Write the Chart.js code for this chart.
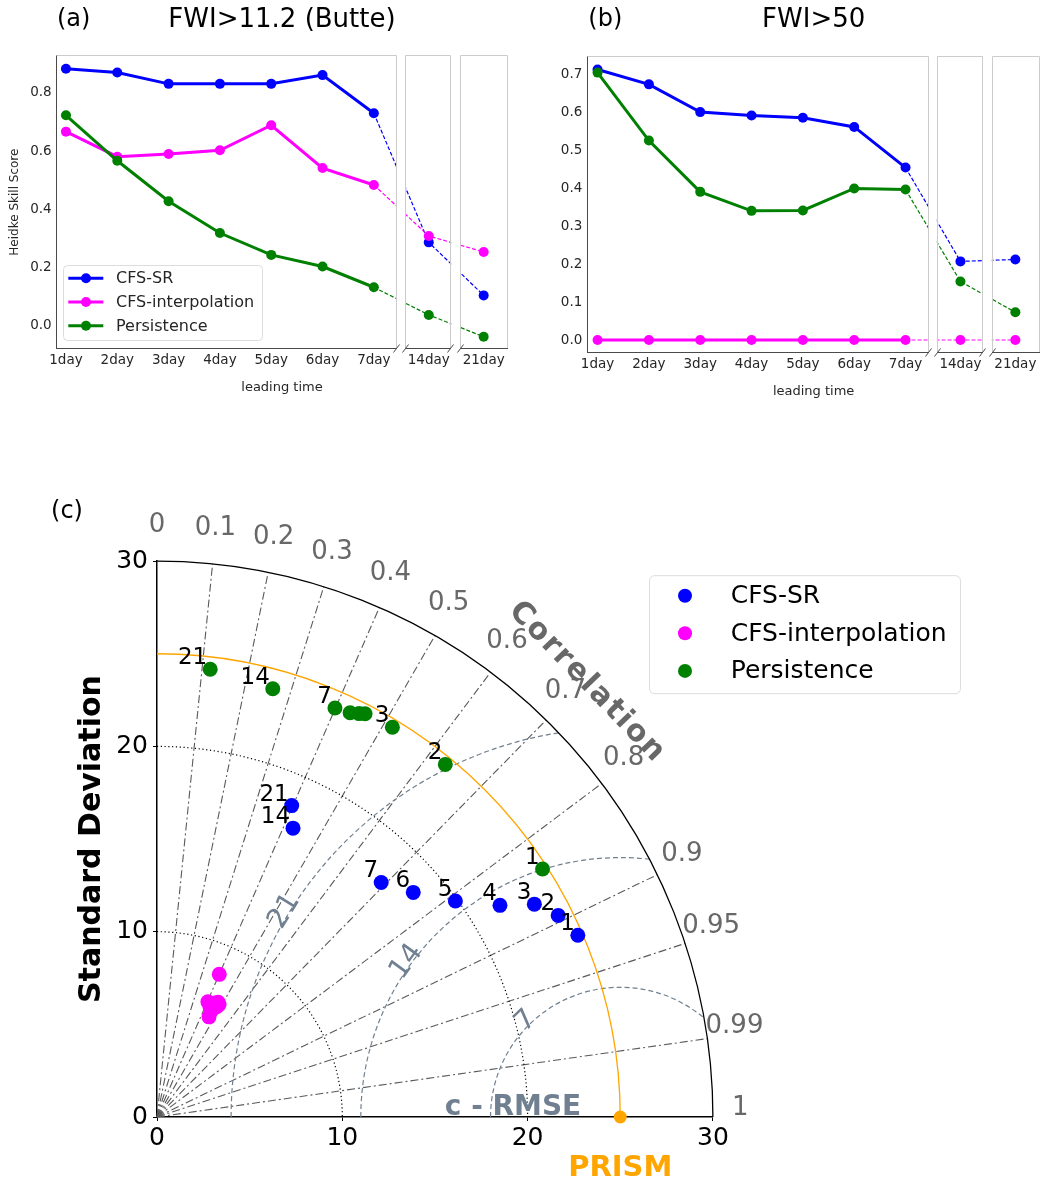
<!DOCTYPE html>
<html>
<head>
<meta charset="utf-8">
<script src="https://cdn.jsdelivr.net/npm/chart.js@4.4.0/dist/chart.umd.min.js"></script>
<style>
  body { margin: 0; background: #fff; }
  #wrap { position: relative; width: 1045px; height: 1193px; overflow: hidden; }
  canvas { position: absolute; }
  #cA { left: 0; top: 0; }
  #cB { left: 520px; top: 0; }
  #cC { left: 0; top: 470px; }
</style>
</head>
<body>
<div id="wrap">
  <canvas id="cA" width="520" height="410"></canvas>
  <canvas id="cB" width="525" height="410"></canvas>
  <canvas id="cC" width="1045" height="723"></canvas>
</div>
<script>
// ---- panels (a) and (b): Heidke skill score by leading time ----
const leadLabels = ['1day', '2day', '3day', '4day', '5day', '6day', '7day', '14day', '21day'];
const leadSlot = [0, 1, 2, 3, 4, 5, 6, 7.07, 8.14]; // place on the broken x axis

const hssA_sr = [0.883, 0.870, 0.831, 0.831, 0.831, 0.861, 0.730, 0.287, 0.105];
const hssA_interp = [0.667, 0.581, 0.590, 0.603, 0.689, 0.542, 0.484, 0.309, 0.254];
const hssA_persist = [0.723, 0.567, 0.428, 0.319, 0.244, 0.204, 0.133, 0.038, -0.037];
const hssA_ticks = [0, 0.2, 0.4, 0.6, 0.8];

const hssB_sr = [0.712, 0.673, 0.600, 0.591, 0.585, 0.561, 0.454, 0.207, 0.212];
const hssB_interp = [0, 0, 0, 0, 0, 0, 0, 0, 0];
const hssB_persist = [0.704, 0.525, 0.390, 0.340, 0.341, 0.399, 0.396, 0.154, 0.073];
const hssB_ticks = [0, 0.1, 0.2, 0.3, 0.4, 0.5, 0.6, 0.7];

// ---- panel (c): Taylor diagram ----
const refStd = 25;
const dayTags = ['1', '2', '3', '4', '5', '6', '7', '14', '21'];
const srStd = [24.74, 24.23, 23.38, 21.75, 19.88, 18.39, 17.51, 17.23, 18.31];
const srCorr = [0.918, 0.8935, 0.871, 0.851, 0.810, 0.752, 0.691, 0.426, 0.397];
const interpStd = [8.40, 6.80, 6.94, 6.77, 6.09, 6.89, 6.46, 7.02, 6.64];
const interpCorr = [0.400, 0.404, 0.483, 0.476, 0.461, 0.450, 0.457, 0.470, 0.429];
const persistStd = [24.74, 24.58, 24.57, 24.49, 24.35, 24.18, 24.07, 23.94, 24.33];
const persistCorr = [0.841, 0.633, 0.517, 0.4585, 0.448, 0.431, 0.399, 0.261, 0.118];
const persistTags = ['1', '2', '3', '', '', '', '7', '14', '21'];
const corrTicks = [0, 0.1, 0.2, 0.3, 0.4, 0.5, 0.6, 0.7, 0.8, 0.9, 0.95, 0.99, 1];
const stdGrid = [10, 20];
const stdMax = 30;
const rmsLevels = [7, 14, 21];
const rmsLabelAngle = [134.5, 144, 148.5];

const FAMILY = "'DejaVu Sans', sans-serif";
const INK = '#262626';
const subAxes = [[-0.2, 6.45], [6.61, 7.51], [7.68, 8.62]];

function drawText(ctx, str, x, y, font, color, align, base, rot) {
    ctx.save();
    ctx.translate(x, y);
    if (rot) ctx.rotate(rot * Math.PI / 180);
    ctx.font = font;
    ctx.fillStyle = color;
    ctx.textAlign = align || 'center';
    ctx.textBaseline = base || 'middle';
    ctx.fillText(str, 0, 0);
    ctx.restore();
}

function seg(ctx, x0, y0, x1, y1) {
    ctx.beginPath();
    ctx.moveTo(x0, y0);
    ctx.lineTo(x1, y1);
    ctx.stroke();
}

// white gaps, frames and "//" marks of the broken x axis
const brokenAxis = {
    id: 'brokenAxis',
    afterDatasetsDraw(chart) {
        const { ctx, chartArea: a, scales: { x } } = chart;
        ctx.save();
        ctx.fillStyle = '#fff';
        for (let i = 0; i < subAxes.length - 1; i++) {
            const g0 = x.getPixelForValue(subAxes[i][1]);
            const g1 = x.getPixelForValue(subAxes[i + 1][0]);
            ctx.fillRect(g0, a.top - 3, g1 - g0, a.bottom - a.top + 6);
        }
        ctx.lineWidth = 1;
        subAxes.forEach(([s0, s1], i) => {
            const l = Math.round(x.getPixelForValue(s0)) + 0.5;
            const r = Math.round(x.getPixelForValue(s1)) - 0.5;
            const t = Math.round(a.top) + 0.5;
            const b = Math.round(a.bottom) - 0.5;
            ctx.strokeStyle = '#cccccc';
            seg(ctx, l, t, r, t);
            seg(ctx, r, t, r, b);
            if (i > 0) seg(ctx, l, t, l, b);
            ctx.strokeStyle = '#4a4a4a';
            seg(ctx, l - 0.5, b, r + 0.5, b);
            if (i === 0) seg(ctx, l, t, l, b);
            if (i > 0) seg(ctx, l - 3, b + 4, l + 3, b - 4);
            if (i < subAxes.length - 1) seg(ctx, r - 3, b + 4, r + 3, b - 4);
        });
        ctx.restore();
    }
};

const panelTitle = {
    id: 'panelTitle',
    afterDraw(chart, args, opts) {
        const { ctx, chartArea: a } = chart;
        drawText(ctx, opts.tag, a.left + 18, 20, '24px ' + FAMILY, '#000');
        drawText(ctx, opts.text, (a.left + a.right) / 2, 20, '26px ' + FAMILY, '#000');
    }
};

const hssLegend = {
    id: 'hssLegend',
    afterDraw(chart, args, opts) {
        if (!opts.show) return;
        const { ctx } = chart;
        ctx.save();
        ctx.beginPath();
        ctx.roundRect(63.5, 265.5, 199, 75, 4);
        ctx.fillStyle = 'rgba(255,255,255,0.85)';
        ctx.fill();
        ctx.strokeStyle = '#dcdcdc';
        ctx.lineWidth = 1;
        ctx.stroke();
        chart.data.datasets.forEach((ds, i) => {
            const y = 278.3 + i * 23.7;
            ctx.strokeStyle = ds.borderColor;
            ctx.lineWidth = 3;
            seg(ctx, 68.3, y, 103.3, y);
            ctx.fillStyle = ds.borderColor;
            ctx.beginPath();
            ctx.arc(86, y, 5, 0, Math.PI * 2);
            ctx.fill();
            drawText(ctx, ds.label, 116, y + 1, '16px ' + FAMILY, INK, 'left', 'middle');
        });
        ctx.restore();
    }
};

function series(label, color, vals, order) {
    return {
        label,
        order,
        data: vals.map((v, i) => ({ x: leadSlot[i], y: v })),
        borderColor: color,
        backgroundColor: color,
        borderWidth: 3,
        pointRadius: 5,
        pointHoverRadius: 5,
        pointBorderWidth: 0,
        segment: {
            borderDash: c => (c.p0DataIndex >= 6 ? [4, 2] : undefined),
            borderWidth: c => (c.p0DataIndex >= 6 ? 1.2 : undefined)
        }
    };
}

function hssChart(id, sr, interp, persist, yMin, yMax, yTicks, cfg) {
    return new Chart(document.getElementById(id), {
        type: 'line',
        data: {
            datasets: [
                series('CFS-SR', '#0000ff', sr, 2),
                series('CFS-interpolation', '#ff00ff', interp, 1),
                series('Persistence', '#008000', persist, 0)
            ]
        },
        options: {
            responsive: false,
            animation: false,
            events: [],
            layout: { padding: cfg.padding },
            plugins: {
                legend: { display: false },
                tooltip: { enabled: false },
                panelTitle: { tag: cfg.tag, text: cfg.title },
                hssLegend: { show: cfg.legend }
            },
            scales: {
                x: {
                    type: 'linear',
                    min: subAxes[0][0],
                    max: subAxes[2][1],
                    grid: { display: false, drawTicks: false },
                    border: { display: false },
                    afterBuildTicks: s => { s.ticks = leadSlot.map(v => ({ value: v })); },
                    afterFit: s => { s.height = cfg.xHeight; },
                    ticks: {
                        autoSkip: false,
                        maxRotation: 0,
                        padding: 3,
                        color: INK,
                        font: { family: FAMILY, size: 13.5 },
                        callback: (v, i) => leadLabels[i]
                    },
                    title: {
                        display: true,
                        text: 'leading time',
                        color: INK,
                        font: { family: FAMILY, size: 13 },
                        padding: { top: 0, bottom: cfg.xTitlePad }
                    }
                },
                y: {
                    min: yMin,
                    max: yMax,
                    grid: { display: false, drawTicks: false },
                    border: { display: false },
                    afterBuildTicks: s => { s.ticks = yTicks.map(v => ({ value: v })); },
                    afterFit: s => { s.width = cfg.yWidth; },
                    ticks: {
                        padding: cfg.yPad,
                        color: INK,
                        font: { family: FAMILY, size: 13.5 },
                        callback: v => v.toFixed(1)
                    },
                    title: {
                        display: !!cfg.yTitle,
                        text: cfg.yTitle || '',
                        color: INK,
                        font: { family: FAMILY, size: 12 },
                        padding: { top: 7.8, bottom: 0 }
                    }
                }
            }
        },
        plugins: [brokenAxis, panelTitle, hssLegend]
    });
}

// Taylor diagram grid, labels and legend
const taylorGrid = {
    id: 'taylorGrid',
    beforeDatasetsDraw(chart) {
        const { ctx, scales: { x, y } } = chart;
        const ox = x.getPixelForValue(0), oy = y.getPixelForValue(0);
        const k = x.getPixelForValue(1) - ox;
        const R = stdMax * k;
        ctx.save();
        // correlation rays
        ctx.strokeStyle = '#5a5a5a';
        ctx.lineWidth = 1.1;
        ctx.setLineDash([8, 3, 2, 3]);
        corrTicks.filter(c => c > 0 && c < 1).forEach(c => {
            const t = Math.acos(c);
            seg(ctx, ox, oy, ox + R * Math.cos(t), oy - R * Math.sin(t));
        });
        // standard deviation circles
        ctx.strokeStyle = '#000';
        ctx.lineWidth = 1.2;
        ctx.setLineDash([1.2, 2.6]);
        stdGrid.forEach(s => {
            ctx.beginPath();
            ctx.arc(ox, oy, s * k, -Math.PI / 2, 0);
            ctx.stroke();
        });
        // centred RMS difference arcs
        ctx.save();
        ctx.beginPath();
        ctx.moveTo(ox, oy);
        ctx.arc(ox, oy, R, -Math.PI / 2, 0);
        ctx.closePath();
        ctx.clip();
        ctx.strokeStyle = '#708090';
        ctx.lineWidth = 1.2;
        ctx.setLineDash([5, 3]);
        const cx = x.getPixelForValue(refStd);
        rmsLevels.forEach(r => {
            ctx.beginPath();
            ctx.arc(cx, oy, r * k, Math.PI, 2 * Math.PI);
            ctx.stroke();
        });
        ctx.restore();
        // reference std circle and outer rim
        ctx.setLineDash([]);
        ctx.strokeStyle = '#ffa500';
        ctx.lineWidth = 1.3;
        ctx.beginPath();
        ctx.arc(ox, oy, refStd * k, -Math.PI / 2, 0);
        ctx.stroke();
        ctx.strokeStyle = '#000';
        ctx.beginPath();
        ctx.arc(ox, oy, R, -Math.PI / 2, 0);
        ctx.stroke();
        // labels
        corrTicks.forEach(c => {
            const t = Math.acos(c);
            const r = 31.48 * k;
            drawText(ctx, String(c), ox + r * Math.cos(t), oy - r * Math.sin(t) - 8.7,
                '26px ' + FAMILY, '#686868');
        });
        rmsLevels.forEach((r, i) => {
            const t = rmsLabelAngle[i] * Math.PI / 180;
            const d = (r + 0.25) * k;
            drawText(ctx, String(r), cx + d * Math.cos(t), oy - d * Math.sin(t),
                '28px ' + FAMILY, '#708090', 'center', 'middle', 90 - rmsLabelAngle[i]);
        });
        const ct = 45.3 * Math.PI / 180;
        ctx.save();
        ctx.letterSpacing = '2px';
        drawText(ctx, 'Correlation', ox + 33.0 * k * Math.cos(ct), oy - 33.0 * k * Math.sin(ct),
            'bold 30px ' + FAMILY, '#686868', 'center', 'middle', 46);
        ctx.restore();
        drawText(ctx, 'c - RMSE', 513, oy - 2, 'bold 28px ' + FAMILY, '#708090', 'center', 'alphabetic');
        drawText(ctx, 'Standard Deviation', 92, (oy + y.getPixelForValue(stdMax)) / 2,
            'bold 30px ' + FAMILY, '#000', 'center', 'middle', -90);
        drawText(ctx, 'PRISM', cx, oy + 51, 'bold 29px ' + FAMILY, '#ffa500');
        drawText(ctx, '(c)', 67, 42, '24px ' + FAMILY, '#000');
        ctx.restore();
    },
    afterDatasetsDraw(chart) {
        const { ctx } = chart;
        chart.data.datasets.forEach((ds, di) => {
            if (!ds.tags) return;
            chart.getDatasetMeta(di).data.forEach((pt, j) => {
                if (ds.tags[j]) drawText(ctx, ds.tags[j], pt.x - 3, pt.y - 5, '23px ' + FAMILY, '#000', 'right', 'alphabetic');
            });
        });
        // legend
        ctx.save();
        ctx.beginPath();
        ctx.roundRect(649.5, 105.7, 311, 118, 5);
        ctx.fillStyle = '#fff';
        ctx.fill();
        ctx.strokeStyle = '#dcdcdc';
        ctx.lineWidth = 1;
        ctx.stroke();
        chart.data.datasets.slice(0, 3).forEach((ds, i) => {
            const yy = 125.7 + i * 37.6;
            ctx.fillStyle = ds.backgroundColor;
            ctx.beginPath();
            ctx.arc(685, yy, 7, 0, Math.PI * 2);
            ctx.fill();
            drawText(ctx, ds.label, 730.7, yy + 1, '25px ' + FAMILY, '#000', 'left', 'middle');
        });
        ctx.restore();
    }
};

function taylorSet(label, color, std, corr, tags, order) {
    return {
        label,
        tags,
        order,
        clip: false,
        pointRadius: 7.5,
        pointHoverRadius: 7.5,
        pointBorderWidth: 0,
        backgroundColor: color,
        borderColor: color,
        data: std.map((s, i) => ({ x: s * corr[i], y: s * Math.sqrt(1 - corr[i] * corr[i]) }))
    };
}

document.addEventListener('DOMContentLoaded', () => {
    hssChart('cA', hssA_sr, hssA_interp, hssA_persist, -0.08, 0.93, hssA_ticks, {
        tag: '(a)', title: 'FWI>11.2 (Butte)', legend: true,
        padding: { top: 55, right: 11.7, left: 0, bottom: 0 },
        xHeight: 60.7, xTitlePad: 14.5, yWidth: 55.7, yPad: 4, yTitle: 'Heidke Skill Score'
    });
    hssChart('cB', hssB_sr, hssB_interp, hssB_persist, -0.035, 0.749, hssB_ticks, {
        tag: '(b)', title: 'FWI>50', legend: false,
        padding: { top: 55.5, right: 1, left: 0, bottom: 0 },
        xHeight: 56.7, xTitlePad: 10.5, yWidth: 67.3, yPad: 5
    });

    const axisCommon = {
        type: 'linear',
        min: 0,
        max: stdMax,
        grid: { drawOnChartArea: false, tickLength: 4, color: '#000' },
        border: { color: '#000', width: 1.5 },
        ticks: { stepSize: 10, color: '#000', font: { family: FAMILY, size: 25 } }
    };
    new Chart(document.getElementById('cC'), {
        type: 'scatter',
        data: {
            datasets: [
                taylorSet('CFS-SR', '#0000ff', srStd, srCorr, dayTags, 3),
                taylorSet('CFS-interpolation', '#ff00ff', interpStd, interpCorr, null, 2),
                taylorSet('Persistence', '#008000', persistStd, persistCorr, persistTags, 1),
                { label: 'PRISM', data: [{ x: refStd, y: 0 }], order: 0, clip: false, pointRadius: 6.5,
                  pointBorderWidth: 0, backgroundColor: '#ffa500', borderColor: '#ffa500' }
            ]
        },
        options: {
            responsive: false,
            animation: false,
            events: [],
            layout: { padding: { top: 91.1, right: 332.1, left: 0, bottom: 0 } },
            plugins: { legend: { display: false }, tooltip: { enabled: false } },
            scales: {
                x: { ...axisCommon, ticks: { ...axisCommon.ticks, padding: 2 }, afterFit: s => { s.height = 76; } },
                y: { ...axisCommon, ticks: { ...axisCommon.ticks, padding: 5 }, afterFit: s => { s.width = 157; } }
            }
        },
        plugins: [taylorGrid]
    });
});
</script>
</body>
</html>
